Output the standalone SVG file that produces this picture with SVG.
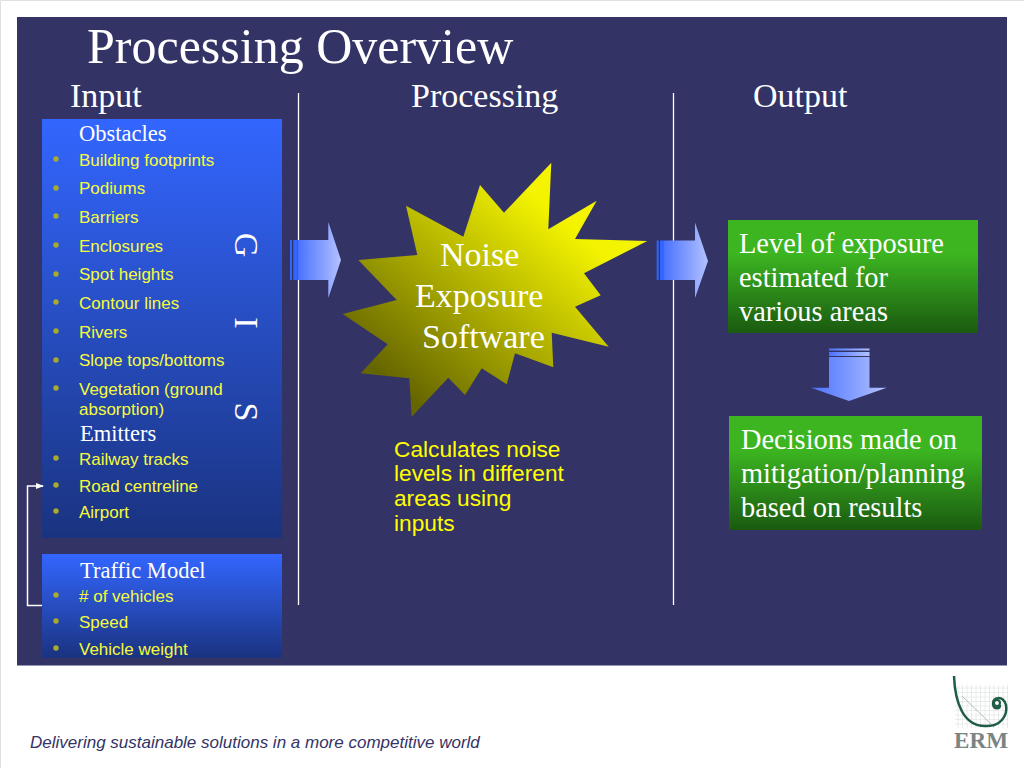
<svg xmlns="http://www.w3.org/2000/svg" width="1024" height="768" viewBox="0 0 1024 768">
<style>
.s{font-family:"Liberation Serif","Times New Roman",serif;fill:#fff}
.h{font-size:34px}
.t{font-size:28.400px}
.g{font-size:22.500px}
.i{font-family:"Liberation Sans",Arial,sans-serif;font-size:17px;fill:#f6fb3c}
.c{font-family:"Liberation Sans",Arial,sans-serif;font-size:22.700px;fill:#ffff00}
.b{fill:#a9ab2a}
.l{stroke:#fff;fill:none}
.st{fill:#3366ff}
</style>
<defs>
<linearGradient id="blue" x1="0" y1="0" x2="0" y2="1"><stop offset="0" stop-color="#3366ff"/><stop offset="1" stop-color="#1a3380"/></linearGradient>
<linearGradient id="green" x1="0" y1="0" x2="0" y2="1"><stop offset="0" stop-color="#3cb521"/><stop offset="0.3" stop-color="#3cb521"/><stop offset="1" stop-color="#1a5a10"/></linearGradient>
<linearGradient id="ar" x1="0" y1="0" x2="1" y2="0"><stop offset="0" stop-color="#4a72ff"/><stop offset="1" stop-color="#b3c2ff"/></linearGradient>
<linearGradient id="star" x1="0" y1="1" x2="1" y2="0"><stop offset="0.15" stop-color="#666600"/><stop offset="0.75" stop-color="#f4f400"/></linearGradient>
<pattern id="grid" width="4.500" height="4.500" patternUnits="userSpaceOnUse"><path d="M4.500 0V4.500H0" fill="none" stroke="#d4dcd8" stroke-width="1"/></pattern>
<marker id="ah" markerWidth="8" markerHeight="6" refX="7" refY="3" orient="auto" markerUnits="userSpaceOnUse"><path d="M0 0L8 3L0 6Z" fill="#fff"/></marker>
</defs>
<rect width="1024" height="768" fill="#fff"/>
<path d="M.5 768V.5H1024" fill="none" stroke="#e0e0e0"/>
<rect id="panel" x="17" y="17" width="990" height="648.500" fill="#333366"/>
<text class="s" x="87" y="63" font-size="50">Processing Overview</text>
<text class="s h" x="70" y="107">Input</text>
<text class="s h" x="411" y="107">Processing</text>
<text class="s h" x="753" y="107">Output</text>

<g id="input-box">
<rect x="42" y="119" width="240" height="419" fill="url(#blue)"/>
<text class="s g" x="79" y="141">Obstacles</text>
<g class="b"><circle cx="56" cy="159" r="2.700"/><circle cx="56" cy="188" r="2.700"/><circle cx="56" cy="216" r="2.700"/><circle cx="56" cy="245" r="2.700"/><circle cx="56" cy="274" r="2.700"/><circle cx="56" cy="302" r="2.700"/><circle cx="56" cy="331" r="2.700"/><circle cx="56" cy="360" r="2.700"/><circle cx="56" cy="388" r="2.700"/><circle cx="56" cy="458" r="2.700"/><circle cx="56" cy="485" r="2.700"/><circle cx="56" cy="511" r="2.700"/></g>
<text class="i" x="79" y="166">Building footprints</text>
<text class="i" x="79" y="194">Podiums</text>
<text class="i" x="79" y="223">Barriers</text>
<text class="i" x="79" y="252">Enclosures</text>
<text class="i" x="79" y="280">Spot heights</text>
<text class="i" x="79" y="309">Contour lines</text>
<text class="i" x="79" y="338">Rivers</text>
<text class="i" x="79" y="366">Slope tops/bottoms</text>
<text class="i" x="79" y="395">Vegetation (ground</text>
<text class="i" x="79" y="415">absorption)</text>
<text class="s g" x="80" y="441">Emitters</text>
<text class="i" x="79" y="465">Railway tracks</text>
<text class="i" x="79" y="492">Road centreline</text>
<text class="i" x="79" y="518">Airport</text>
<text class="s" font-size="34" transform="translate(235,245) rotate(90)" text-anchor="middle">G</text>
<text class="s" font-size="34" transform="translate(235,323) rotate(90)" text-anchor="middle">I</text>
<text class="s" font-size="34" transform="translate(235,412) rotate(90)" text-anchor="middle">S</text>
</g>

<g id="traffic-box">
<rect x="42" y="554" width="240" height="104" fill="url(#blue)"/>
<text class="s g" x="80" y="578">Traffic Model</text>
<g class="b"><circle cx="56" cy="595" r="2.700"/><circle cx="56" cy="621" r="2.700"/><circle cx="56" cy="648" r="2.700"/></g>
<text class="i" x="79" y="602"># of vehicles</text>
<text class="i" x="79" y="628">Speed</text>
<text class="i" x="79" y="655">Vehicle weight</text>
</g>

<g id="connectors">
<path class="l" stroke-width="1.500" d="M42 605.500H27.500V486H43" marker-end="url(#ah)"/>
<path class="l" stroke-width="1.300" d="M298.500 93V605M673.500 93V605"/>
</g>

<g id="arrow-left">
<rect class="st" x="290" y="240" width="2" height="40"/><rect class="st" x="293.300" y="240" width="4" height="40"/>
<path d="M298 240H328.300V222L341 260L328.300 298V280H298Z" fill="url(#ar)"/>
</g>
<g id="arrow-right">
<rect class="st" x="656.700" y="240.500" width="2" height="39.500"/><rect class="st" x="660" y="240.500" width="4" height="39.500"/>
<path d="M664 240.500H695V222.500L708 261L695 298V280H664Z" fill="url(#ar)"/>
</g>
<g id="arrow-down">
<rect x="829" y="348.500" width="40.500" height="2" fill="url(#ar)"/><rect x="829" y="352" width="40.500" height="4" fill="url(#ar)"/>
<path d="M829 357H869.500V387.700H886.700L849 401L811 387.700H829Z" fill="url(#ar)"/>
</g>

<g id="star-node">
<polygon fill="url(#star)" points="551.300,162.700 548.300,229.300 596.700,200.700 575,239 647.300,241 584,273.300 600.700,295.300 575,306.700 608.700,346.700 551.700,332.700 553.300,367.300 515,353.300 506.700,384.300 481.700,368.300 465,395 448.300,377.700 411.700,416.700 409.300,378.300 360.700,373.300 387.700,344.300 342.700,314 396.700,300 358.300,260 417.300,255 406,205.700 463.300,236.700 480,185 504,212.700"/>
<text class="s h" x="440" y="266">Noise</text>
<text class="s h" x="415" y="307">Exposure</text>
<text class="s h" x="422" y="348">Software</text>
</g>

<g id="calc-note">
<text class="c" x="394" y="457">Calculates noise</text>
<text class="c" x="394" y="481">levels in different</text>
<text class="c" x="394" y="506">areas using</text>
<text class="c" x="394" y="531">inputs</text>
</g>

<g id="level-box">
<rect x="728" y="220" width="250" height="113" fill="url(#green)"/>
<text class="s t" x="739" y="253">Level of exposure</text>
<text class="s t" x="739" y="287">estimated for</text>
<text class="s t" x="739" y="321">various areas</text>
</g>
<g id="decision-box">
<rect x="729" y="416" width="253" height="114" fill="url(#green)"/>
<text class="s t" x="741" y="449">Decisions made on</text>
<text class="s t" x="741" y="483">mitigation/planning</text>
<text class="s t" x="741" y="517">based on results</text>
</g>

<text x="30" y="748" font-family="Liberation Sans,Arial,sans-serif" font-size="17" font-style="italic" fill="#333366">Delivering sustainable solutions in a more competitive world</text>

<g id="logo">
<rect x="955" y="685" width="53" height="43" fill="url(#grid)"/>
<path d="M962 696L994 727" stroke="#b5bdb9" fill="none"/>
<path d="M954 676C955 702 963 726 985 726C1000 727 1008 716 1006 705C1003 695 992 697 993 704C994 710 1000 709 1000 705" stroke="#1f5c45" stroke-width="2.500" fill="none"/>
<circle cx="997" cy="703" r="3" fill="none" stroke="#1f5c45" stroke-width="2"/>
<text x="954" y="748" font-family="Liberation Serif,Times New Roman,serif" font-weight="bold" font-size="23" textLength="54" lengthAdjust="spacingAndGlyphs" fill="#7a8482">ERM</text>
</g>
</svg>
